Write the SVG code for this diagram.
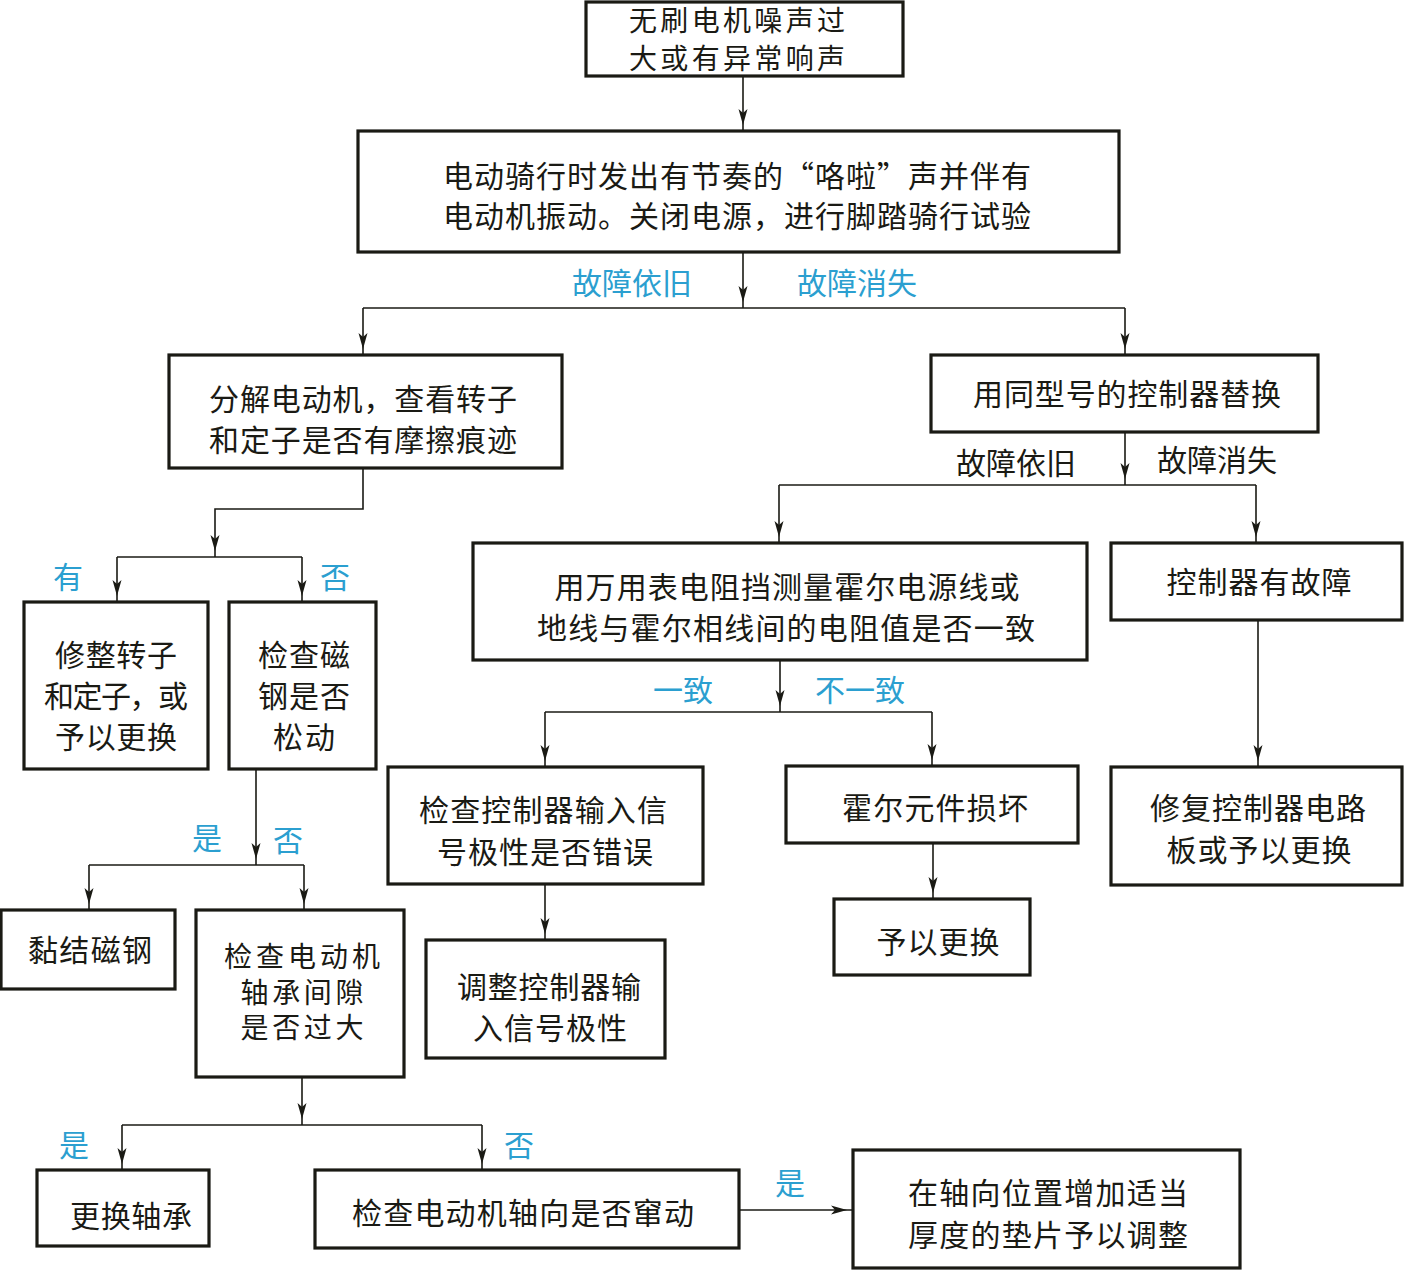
<svg xmlns="http://www.w3.org/2000/svg" width="1404" height="1270" viewBox="0 0 1404 1270">
<style>
.box{fill:#fff;stroke:#1a1a14;stroke-width:3.2}
.t{font-family:"Noto Sans CJK SC","Noto Sans",sans-serif;font-size:30px;fill:#1a1a14;text-anchor:middle;dominant-baseline:central;transform:translateY(-2px)}
.s{font-size:28px}
.b{fill:#2b9fd0}
.c{fill:none;stroke:#1a1a14;stroke-width:1.6}
.a{marker-end:url(#ah)}
</style>
<defs>
<marker id="ah" markerUnits="userSpaceOnUse" viewBox="0 0 22 10" markerWidth="22" markerHeight="10" refX="22" refY="5" orient="auto">
<path d="M0,0.5 L16,5 L0,9.5 L4,5 z" fill="#1a1a14"/>
</marker>
</defs>
<rect width="1404" height="1270" fill="#fff"/>
<g id="connectors">
<path class="c a" d="M743,76 V131"/>
<path class="c a" d="M743,252 V308"/>
<path class="c" d="M363,308 H1125"/>
<path class="c a" d="M363,308 V355"/>
<path class="c a" d="M1125,308 V355"/>
<path class="c a" d="M363,468 V509 H215 V557"/>
<path class="c" d="M117,557 H302"/>
<path class="c a" d="M117,557 V602"/>
<path class="c a" d="M302,557 V602"/>
<path class="c a" d="M256,769 V865"/>
<path class="c" d="M89,865 H304"/>
<path class="c a" d="M89,865 V910"/>
<path class="c a" d="M304,865 V910"/>
<path class="c a" d="M302,1077 V1125"/>
<path class="c" d="M122,1125 H482"/>
<path class="c a" d="M122,1125 V1170"/>
<path class="c a" d="M482,1125 V1170"/>
<path class="c a" d="M739,1210 H853"/>
<path class="c a" d="M1125,432 V485"/>
<path class="c" d="M779,485 H1256"/>
<path class="c a" d="M779,485 V543"/>
<path class="c a" d="M1256,485 V543"/>
<path class="c a" d="M780,660 V712"/>
<path class="c" d="M545,712 H932"/>
<path class="c a" d="M545,712 V767"/>
<path class="c a" d="M932,712 V766"/>
<path class="c a" d="M1258,620 V767"/>
<path class="c a" d="M545,884 V940"/>
<path class="c a" d="M933,843 V899"/>
</g>
<g id="labels">
<text class="t b" x="632" y="283">故障依旧</text>
<text class="t b" x="857" y="283">故障消失</text>
<text class="t b" x="68" y="577">有</text>
<text class="t b" x="335" y="577">否</text>
<text class="t b" x="207" y="838">是</text>
<text class="t b" x="288" y="840">否</text>
<text class="t b" x="74" y="1145">是</text>
<text class="t b" x="519" y="1145">否</text>
<text class="t b" x="790" y="1183">是</text>
<text class="t" x="1016" y="463">故障依旧</text>
<text class="t" x="1217" y="460">故障消失</text>
<text class="t b" x="683" y="690">一致</text>
<text class="t b" x="860" y="690">不一致</text>
</g>
<g id="n1"><rect class="box" x="586" y="2" width="317" height="74"/>
<text class="t s" x="737" y="21" textLength="216">无刷电机噪声过</text>
<text class="t s" x="737" y="59" textLength="216">大或有异常响声</text></g>
<g id="n2"><rect class="box" x="358" y="131" width="761" height="121"/>
<text class="t" x="737" y="176" textLength="588">电动骑行时发出有节奏的“咯啦”声并伴有</text>
<text class="t" x="737" y="216" textLength="588">电动机振动。关闭电源，进行脚踏骑行试验</text></g>
<g id="n3"><rect class="box" x="169" y="355" width="393" height="113"/>
<text class="t" x="363" y="399" textLength="308">分解电动机，查看转子</text>
<text class="t" x="363" y="440" textLength="308">和定子是否有摩擦痕迹</text></g>
<g id="n4"><rect class="box" x="931" y="355" width="387" height="77"/>
<text class="t" x="1127" y="394" textLength="308">用同型号的控制器替换</text></g>
<g id="n5"><rect class="box" x="24" y="602" width="184" height="167"/>
<text class="t" x="116" y="655" textLength="122">修整转子</text>
<text class="t" x="116" y="696" textLength="144">和定子，或</text>
<text class="t" x="116" y="737" textLength="122">予以更换</text></g>
<g id="n6"><rect class="box" x="229" y="602" width="147" height="167"/>
<text class="t" x="304" y="655" textLength="92">检查磁</text>
<text class="t" x="304" y="696" textLength="92">钢是否</text>
<text class="t" x="304" y="737" textLength="62">松动</text></g>
<g id="n7"><rect class="box" x="1" y="910" width="174" height="79"/>
<text class="t" x="90" y="950" textLength="124">黏结磁钢</text></g>
<g id="n8"><rect class="box" x="196" y="910" width="208" height="167"/>
<text class="t s" x="302" y="957" textLength="156">检查电动机</text>
<text class="t s" x="302" y="993" textLength="123">轴承间隙</text>
<text class="t s" x="302" y="1028" textLength="123">是否过大</text></g>
<g id="n9"><rect class="box" x="37" y="1170" width="172" height="76"/>
<text class="t" x="131" y="1216" textLength="122">更换轴承</text></g>
<g id="n10"><rect class="box" x="315" y="1170" width="424" height="78"/>
<text class="t" x="523" y="1213" textLength="342">检查电动机轴向是否窜动</text></g>
<g id="n11"><rect class="box" x="853" y="1150" width="387" height="118"/>
<text class="t" x="1048" y="1193" textLength="280">在轴向位置增加适当</text>
<text class="t" x="1048" y="1235" textLength="280">厚度的垫片予以调整</text></g>
<g id="n12"><rect class="box" x="473" y="543" width="614" height="117"/>
<text class="t" x="787" y="587" textLength="465">用万用表电阻挡测量霍尔电源线或</text>
<text class="t" x="786" y="628" textLength="498">地线与霍尔相线间的电阻值是否一致</text></g>
<g id="n13"><rect class="box" x="1111" y="543" width="291" height="77"/>
<text class="t" x="1259" y="582" textLength="185">控制器有故障</text></g>
<g id="n14"><rect class="box" x="388" y="767" width="315" height="117"/>
<text class="t" x="543" y="810" textLength="248">检查控制器输入信</text>
<text class="t" x="545" y="852" textLength="216">号极性是否错误</text></g>
<g id="n15"><rect class="box" x="786" y="766" width="292" height="77"/>
<text class="t" x="935" y="808" textLength="186">霍尔元件损坏</text></g>
<g id="n16"><rect class="box" x="1111" y="767" width="291" height="118"/>
<text class="t" x="1258" y="808" textLength="216">修复控制器电路</text>
<text class="t" x="1259" y="850" textLength="185">板或予以更换</text></g>
<g id="n17"><rect class="box" x="426" y="940" width="239" height="118"/>
<text class="t" x="549" y="987" textLength="184">调整控制器输</text>
<text class="t" x="550" y="1028" textLength="154">入信号极性</text></g>
<g id="n18"><rect class="box" x="834" y="899" width="196" height="76"/>
<text class="t" x="938" y="942" textLength="123">予以更换</text></g>
</svg>
